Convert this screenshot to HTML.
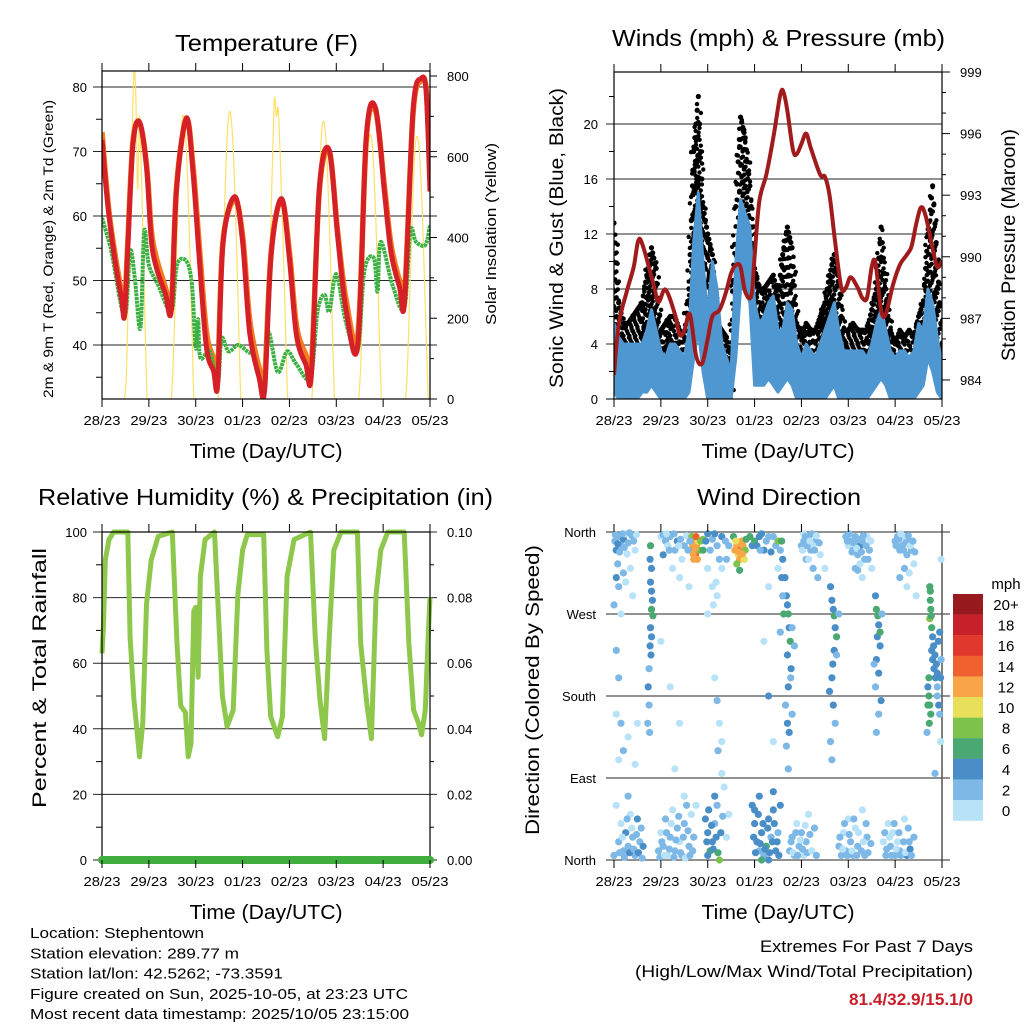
<!DOCTYPE html>
<html><head><meta charset="utf-8"><style>
html,body{margin:0;padding:0;background:#fff;}
svg{display:block;font-family:"Liberation Sans",sans-serif;}
</style></head><body>
<svg id="c" width="1024" height="1024" viewBox="0 0 1024 1024" xmlns="http://www.w3.org/2000/svg"></svg>
<script>
// ---------------- DATA ----------------
const dayLabels = ["28/23","29/23","30/23","01/23","02/23","03/23","04/23","05/23"];
const tempTicks = [40,50,60,70,80];
const solarTicks = [0,200,400,600,800];
const windTicks = [0,4,8,12,16,20];
const pressTicks = [984,987,990,993,996,999];
const rhTicks = [0,20,40,60,80,100];
const rainTicks = ["0.00","0.02","0.04","0.06","0.08","0.10"];
const dirLabels = ["North","East","South","West","North"];
const speedBins = ["0","2","4","6","8","10","12","14","16","18","20+"];
const speedColors = ["#b8e2f8","#7db8e6","#4a8ec8","#4aa872","#7dc24b","#e8e05a","#f7a546","#f06130","#e0392b","#c8202a","#961a1e"];

const tTime = [0,0.08,0.16,0.3,0.42,0.48,0.55,0.66,0.8,0.95,1.05,1.16,1.35,1.48,1.59,1.8,1.94,2.08,2.23,2.38,2.47,2.58,2.83,3.0,3.15,3.35,3.47,3.61,3.83,4.0,4.15,4.35,4.47,4.64,4.85,5.03,5.21,5.46,5.64,5.84,6.03,6.17,6.35,6.46,6.64,6.81,6.92,7.0];
const tempRed = [71.8,65,59.3,52,47,44.5,55,71,74.6,67.6,56.5,52,48,45.4,64,75.2,67,53,39.6,36,34,55.5,63,56,42,35,33,54,62.7,53.4,41.5,37,35.6,64.5,70.2,56.8,45.4,40,72.3,76.7,63.6,54.3,49,47,76.5,81.3,79,63.8];
const tempOrange = [73,66,60,53,48,45.5,56,71.5,74.4,68,58,53.5,49,46.2,64.5,75,68,55,42,38,36,56,62.5,57,44,36.5,35,54.5,62.5,54.5,43,38.5,37,64,70,57.5,47,41.5,72,76.3,64.5,55.5,50,48.3,76,81,79.5,66];
const tdTime = [0,0.2,0.48,0.6,0.7,0.82,0.9,1.0,1.2,1.48,1.6,1.8,1.92,2.0,2.05,2.1,2.3,2.47,2.55,2.7,2.9,3.1,3.25,3.47,3.55,3.75,3.95,4.15,4.45,4.6,4.75,4.85,5.0,5.2,5.45,5.6,5.8,5.88,5.95,6.2,6.45,6.58,6.7,6.9,7.0];
const tempDew = [59.7,54.5,44.5,54.5,50.4,42.6,57.6,52.4,49.3,45.2,52.4,53,49.3,39.5,44,38,39,34,41,39,40,39,38,33,42,35.8,39,37,35,45.2,47.8,45.2,51,43.7,39,51.5,53.5,48.3,56,49.3,45.7,57.6,56,55.5,58.6];
const solarStart = [0.48,1.48,2.48,3.48,4.48,5.48,6.48];
const solarValues = [
 [0,60,250,450,640,810,760,520,700,560,380,180,0],
 [0,90,240,400,540,650,700,690,620,500,350,170,0],
 [0,90,250,410,560,670,712,690,620,500,350,170,0],
 [0,80,240,420,600,745,700,720,610,480,330,160,0],
 [0,90,240,400,540,650,687,670,600,480,330,160,0],
 [0,80,230,380,520,620,654,640,570,460,320,150,0],
 [0,80,230,380,520,620,650,630,560,450,300,150,0]];

const windLo = [0.5,0,0,0,0,0,0.5,0.5,1,0.5, 0,0,0,0,0,0,0.5,3,5,2, 0,0,0,0,0,0,3,8,8,7, 1,1,1,1.5,1,0.5,1,1.5,1,0, 0,0,0,0,0,0,0.5,1,0,0, 0,0,0,0,0,0.5,1,1.5,1,0, 0,0,0,0,0,0.5,1,3,2,0.5,0];
const windHi = [5.5,4.5,4,4,4,4,4,5,6.5,5, 3.5,3,4,4,3.5,3,5,11.5,15,10, 6,10,8,4,3,2,10,14.5,13.5,12.5, 7,5.5,6,7,7.5,5,5,7,6.5,4, 3,4,3.5,3,4,5,6,7,5,3.5, 3.5,3.5,3.5,3.5,3,4,5.5,6.5,5,3.5, 3,3.5,3.5,3,3.5,5.5,5,8,7,4.5,2.5];
const gustHi = [12.8,7,5.5,5.5,6,6.5,7,9,11,9.5, 5,5.5,6,6,5,4.5,8,18,22,14, 12,10.5,5.5,5,4.5,3,14,20.5,19,15.5, 9.5,8,8,8.5,9,7.5,10.5,12.5,11,5.5, 4.5,5.5,5,5,6,7,9,10.5,8.5,5, 5,5.5,5,5,5,6.5,8,12.5,8,5, 4,5,4.5,5,4.5,6,7,12,15.5,10,4];
const pTime = [0,0.1,0.27,0.42,0.52,0.62,0.85,0.95,1.1,1.3,1.4,1.5,1.62,1.75,1.88,2.0,2.1,2.25,2.38,2.5,2.6,2.7,2.8,2.93,3.0,3.1,3.25,3.4,3.55,3.62,3.7,3.82,3.9,4.0,4.1,4.2,4.4,4.5,4.6,4.72,4.85,4.95,5.05,5.2,5.3,5.4,5.5,5.58,5.7,5.8,5.95,6.1,6.25,6.35,6.45,6.55,6.65,6.8,6.9,7.0];
const pressure = [984.25,986.7,988.3,989.5,990.8,990.5,988.6,987.8,988.4,987.2,986.2,986.4,987.2,985.2,984.8,986.0,987.1,987.4,988.2,989.2,989.6,989.5,988.3,988.1,990,992.7,994,995.8,997.9,998,997.1,995.2,995,995.5,996,995.3,994,993.9,993,990.7,988.5,988.5,989,988.5,988,988,989.5,989.7,987.4,987.2,988.6,989.6,990.1,990.5,991.6,992.4,992,990.4,989.5,989.8];

const rhTime = [0,0.03,0.07,0.15,0.25,0.55,0.6,0.68,0.8,0.87,0.95,1.05,1.2,1.5,1.6,1.68,1.78,1.84,1.9,1.96,2.0,2.05,2.1,2.2,2.4,2.5,2.57,2.67,2.8,2.9,3.0,3.1,3.45,3.52,3.6,3.75,3.85,3.95,4.1,4.45,4.55,4.65,4.75,4.85,4.95,5.1,5.45,5.52,5.65,5.75,5.85,5.95,6.1,6.45,6.55,6.65,6.75,6.82,6.9,6.97,7.0];
const rhValues = [63,71,91.5,97.7,100,100,68,49,31.5,41.9,78,91.5,98.7,100,66,47,45,31.5,35.5,76,77,55.7,86.5,97.7,100,71,50,40.7,45.7,81,94.5,99.2,99.2,64,43.7,37.6,43.7,86.5,97.7,100,68,49,37,68,94.5,100,100,66,48,37,81,94.5,100,100,66,45.7,41.9,38.2,45.7,71,80];
const rainTime = [0,7];
const rainValues = [0,0];

// wind direction observations: [day offset, direction deg (0=N,90=E,180=S,270=W), speed mph]
const windDirObs = [
[0.02,350,2],[0.05,340,3],[0.1,355,2],[0.15,345,1],[0.2,352,3],[0.25,358,0],[0.3,348,2],[0.38,356,1],[0.45,340,0],[0.05,310,4],[0.1,300,1],[0.2,315,2],[0.35,320,0],[0.0,280,2],[0.15,270,0],
[0.78,345,6],[0.77,330,4],[0.8,320,4],[0.78,305,4],[0.8,295,4],[0.82,285,4],[0.8,275,6],[0.83,268,6],[0.78,255,4],[0.8,245,4],[0.77,235,4],[0.79,225,4],[0.75,210,2],[0.73,190,4],[0.75,170,2],[0.72,150,2],[0.76,140,2],
[0.05,230,2],[0.1,200,2],[0.05,160,0],[0.15,150,2],[0.1,110,0],[0.2,120,2],[0.3,135,0],[0.5,150,0],[0.45,105,0],
[1.0,355,0],[1.1,350,2],[1.15,345,0],[1.2,355,2],[1.3,340,2],[1.35,350,4],[1.45,330,0],[1.5,345,2],[1.55,356,0],[1.25,320,0],[1.4,310,0],[1.6,300,0],[1.05,335,4],
[1.68,345,12],[1.7,340,13],[1.72,350,12],[1.74,335,14],[1.76,345,12],[1.78,330,12],[1.8,350,10],[1.82,340,8],[1.7,330,12],[1.66,355,8],[1.75,355,14],[1.85,350,8],[1.9,352,8],[1.9,340,6],[1.73,342,12],[1.69,336,12],
[2.0,270,0],[2.1,300,0],[2.2,290,0],[2.15,200,0],[2.2,175,2],[2.25,150,0],[2.3,130,0],[2.22,120,2],[2.3,95,0],[2.35,80,0],[2.4,330,2],[2.3,320,0],[2.0,320,0],[1.2,190,0],[1.0,240,0],[1.4,150,0],[1.3,100,0],[1.5,70,0],
[2.58,340,12],[2.62,345,12],[2.65,335,10],[2.68,330,12],[2.7,340,14],[2.72,350,12],[2.75,345,12],[2.78,330,10],[2.8,340,8],[2.62,325,8],[2.68,318,6],[2.55,355,6],[2.6,350,10],[2.82,352,6],[2.9,355,6],[2.95,345,4],[2.66,338,12],[2.74,336,12],
[3.0,350,6],[3.1,355,4],[3.15,358,4],[3.2,340,4],[3.3,355,2],[3.45,345,2],[3.5,350,8],[3.5,320,0],[3.3,300,0],[3.2,240,0],[3.3,180,4],[3.4,130,0],[3.6,330,4],[3.58,350,6],
[3.65,310,4],[3.68,290,4],[3.7,280,4],[3.72,270,6],[3.74,255,4],[3.76,240,6],[3.7,225,4],[3.78,210,4],[3.72,190,4],[3.66,170,2],[3.7,150,4],[3.74,140,4],[3.68,125,2],[3.8,255,2],[3.77,200,2],[3.8,160,2],[3.85,235,2],[3.72,100,2],
[4.0,345,2],[4.05,350,2],[4.15,355,2],[4.2,340,2],[4.3,350,2],[4.1,330,2],[4.25,345,0],[4.4,335,0],[4.05,358,0],[4.35,310,2],[4.5,320,0],
[4.62,300,4],[4.65,285,4],[4.68,275,4],[4.7,268,6],[4.72,255,4],[4.75,245,6],[4.7,230,4],[4.67,215,4],[4.65,200,4],[4.6,185,4],[4.68,170,4],[4.72,150,2],[4.62,130,2],[4.65,110,2],[4.75,225,2],[4.8,270,2],
[4.95,355,2],[5.0,345,0],[5.05,350,2],[5.1,340,2],[5.15,355,2],[5.2,335,2],[5.25,345,4],[5.3,350,2],[5.35,330,2],[5.4,355,0],[5.45,340,2],[5.5,320,0],[5.15,320,2],[5.3,310,0],
[5.58,290,4],[5.6,275,6],[5.63,268,6],[5.65,258,4],[5.62,245,4],[5.68,235,4],[5.6,220,4],[5.65,205,4],[5.58,190,2],[5.7,175,4],[5.65,160,2],[5.6,140,2],[5.68,250,6],[5.72,270,2],[5.55,215,2],
[6.0,350,2],[6.05,355,2],[6.1,340,2],[6.15,345,2],[6.2,355,0],[6.25,335,2],[6.3,350,2],[6.35,340,2],[6.4,325,0],[6.1,310,2],[6.25,300,0],[6.45,290,0],
[6.75,285,6],[6.76,275,6],[6.74,265,8],[6.78,255,6],[6.8,245,4],[6.82,235,4],[6.85,225,4],[6.88,215,4],[6.9,205,4],[6.72,180,6],[6.74,170,6],[6.76,160,6],[6.73,150,6],[6.7,190,4],[6.68,140,2],[6.92,240,4],[6.95,250,4],[6.9,190,2],[6.85,95,2],[6.97,130,0],[6.98,330,0],
[0.0,5,2],[0.1,20,2],[0.15,40,0],[0.2,10,2],[0.25,30,4],[0.3,15,2],[0.35,50,0],[0.4,25,2],[0.45,5,2],[0.5,45,4],[0.55,20,2],[0.05,60,0],[0.3,70,2],
[0.95,10,2],[1.0,30,0],[1.05,15,2],[1.1,45,2],[1.15,5,0],[1.2,25,2],[1.25,55,0],[1.3,10,2],[1.35,35,2],[1.4,20,0],[1.45,5,2],[1.5,40,2],[1.55,60,2],[1.6,15,2],[1.65,50,0],
[1.95,45,4],[2.0,30,4],[2.05,10,6],[2.1,20,4],[2.0,5,4],[2.15,40,2],[2.25,0,8],[2.4,25,0],[2.45,50,0],
[2.95,60,4],[3.0,40,4],[3.05,20,4],[3.1,10,2],[3.15,30,4],[3.2,5,2],[3.25,15,6],[3.3,45,4],[3.35,25,2],[3.4,55,4],[3.45,10,4],[3.5,30,2],[3.15,0,6],[3.3,0,4],[3.0,55,4],
[3.75,10,2],[3.8,25,2],[3.85,5,2],[3.9,40,0],[3.95,15,2],[4.0,30,2],[4.05,5,0],[4.1,20,2],[4.15,50,0],
[4.8,15,2],[4.85,5,2],[4.9,30,0],[4.95,10,2],[5.0,45,0],[5.05,20,2],[5.1,5,2],[5.15,35,0],[5.2,15,2],[5.3,55,0],[5.35,5,2],[5.4,25,2],
[5.75,20,0],[5.8,5,2],[5.85,40,0],[5.9,15,2],[5.95,30,0],[6.0,5,2],[6.05,20,0],[6.1,10,2],[6.2,45,0],[6.25,5,4],[6.3,20,2],
[0.03,357,2],[0.08,347,4],[0.12,338,2],[0.18,358,2],[0.22,343,2],[0.28,336,0],[0.33,359,2],[0.42,350,2],[0.48,357,0],[0.08,325,2],[0.25,305,0],[0.4,290,0],
[0.12,8,2],[0.18,25,0],[0.22,3,2],[0.28,45,2],[0.33,8,4],[0.38,35,0],[0.42,12,2],[0.48,28,2],[0.52,8,4],[0.58,35,2],[0.6,2,2],[0.62,15,4],
[0.98,3,2],[1.02,20,2],[1.08,5,0],[1.12,30,2],[1.18,12,2],[1.22,40,0],[1.28,3,2],[1.32,22,2],[1.38,48,2],[1.42,8,2],[1.48,25,2],[1.52,2,0],[1.58,32,2],[1.62,5,2],[1.7,25,2],[1.75,60,0],[1.68,10,2],
[1.05,357,2],[1.12,358,0],[1.18,340,2],[1.28,358,2],[1.38,345,0],[1.42,352,2],[1.58,340,2],[1.62,350,2],
[1.96,350,4],[2.0,358,4],[2.05,340,2],[2.1,352,2],[2.15,358,4],[2.2,345,2],[2.3,355,4],[2.38,350,2],[2.45,345,2],[2.25,330,2],[2.18,305,0],[2.12,280,0],
[1.98,20,4],[2.02,55,4],[2.08,38,4],[2.12,12,4],[2.18,25,4],[2.22,8,6],[2.28,30,4],[2.32,48,2],[2.2,60,2],[2.15,70,4],
[2.98,25,4],[3.02,8,4],[3.08,50,4],[3.12,18,4],[3.18,40,4],[3.22,12,4],[3.28,35,4],[3.32,8,4],[3.38,20,4],[3.42,40,4],[3.48,20,4],[3.52,5,4],[3.1,70,4],[3.4,75,4],[3.55,60,4],
[3.05,345,4],[3.12,340,2],[3.25,350,2],[3.35,338,4],[3.4,355,2],[3.55,340,2],[3.58,310,4],[3.6,290,2],[3.62,270,6],[3.55,250,2],
[3.78,20,2],[3.82,8,0],[3.88,30,2],[3.92,5,2],[3.98,22,0],[4.02,12,2],[4.08,38,0],[4.12,8,2],[4.18,28,2],[4.22,10,0],[4.28,35,2],[4.32,5,2],
[4.02,340,0],[4.08,355,2],[4.12,345,2],[4.18,350,0],[4.22,358,2],[4.28,340,2],[4.32,356,0],[4.38,348,2],[4.15,330,0],[4.25,320,2],
[4.82,25,2],[4.88,12,0],[4.92,40,2],[4.98,5,2],[5.02,28,2],[5.08,10,0],[5.12,45,2],[5.18,5,2],[5.22,30,0],[5.28,10,2],[5.32,20,0],[5.38,40,2],[5.42,8,2],[5.48,18,2],
[4.98,350,2],[5.02,358,2],[5.08,338,2],[5.12,348,2],[5.18,342,0],[5.22,352,2],[5.28,338,2],[5.32,356,2],[5.38,345,2],[5.42,330,2],[5.48,350,0],[5.2,318,2],[5.25,325,0],
[5.78,30,2],[5.82,12,2],[5.88,25,0],[5.92,5,2],[5.98,40,2],[6.02,12,0],[6.08,30,2],[6.12,5,2],[6.18,20,2],[6.22,8,0],[6.28,35,2],[6.32,12,4],[6.35,5,2],[6.4,25,2],
[6.02,345,2],[6.08,352,2],[6.12,358,0],[6.18,340,2],[6.22,348,2],[6.28,356,2],[6.32,345,0],[6.38,350,2],[6.42,338,2],[6.2,320,2],[6.3,315,0],
[6.78,230,4],[6.8,220,4],[6.83,210,4],[6.86,200,4],[6.9,180,2],[6.93,170,4],[6.95,160,2],[6.98,220,2],[6.97,200,4],[6.75,295,6],[6.74,300,6],[6.77,268,6],[6.72,200,6],[6.7,170,6]
];

// ---------------- DRAWING ----------------
const NS = "http://www.w3.org/2000/svg";
const svg = document.getElementById('c');
function mk(tag, attrs, parent, name) {
  const e = document.createElementNS(NS, tag);
  for (const k in attrs) e.setAttribute(k, attrs[k]);
  
  
  (parent || svg).appendChild(e);
  return e;
}
function txt(x, y, s, size, anchor, parent, name, extra) {
  const e = mk('text', Object.assign({x: x, y: y, 'font-size': size, 'text-anchor': anchor || 'middle', fill: '#000'}, extra || {}), parent, name);
  e.textContent = s;
  return e;
}
function vtxt(x, y, s, size, len, parent, name) {
  const e = mk('text', {x: 0, y: 0, 'font-size': size, 'text-anchor': 'middle', fill: '#000', textLength: len, lengthAdjust: 'spacingAndGlyphs', transform: 'translate(' + x + ',' + y + ') rotate(-90)'}, parent, name);
  e.textContent = s;
  return e;
}
function pathFrom(xs, ys) {
  let d = '';
  for (let i = 0; i < xs.length; i++) d += (i ? 'L' : 'M') + xs[i].toFixed(1) + ',' + ys[i].toFixed(1);
  return d;
}
function smoothFrom(xs, ys) {
  let d = 'M' + xs[0].toFixed(1) + ',' + ys[0].toFixed(1);
  const n = xs.length;
  for (let i = 0; i < n - 1; i++) {
    const x0 = xs[Math.max(0, i - 1)], y0 = ys[Math.max(0, i - 1)];
    const x3 = xs[Math.min(n - 1, i + 2)], y3 = ys[Math.min(n - 1, i + 2)];
    const c1x = xs[i] + (xs[i + 1] - x0) / 6, c1y = ys[i] + (ys[i + 1] - y0) / 6;
    const c2x = xs[i + 1] - (x3 - xs[i]) / 6, c2y = ys[i + 1] - (y3 - ys[i]) / 6;
    d += 'C' + c1x.toFixed(1) + ',' + c1y.toFixed(1) + ' ' + c2x.toFixed(1) + ',' + c2y.toFixed(1) + ' ' + xs[i + 1].toFixed(1) + ',' + ys[i + 1].toFixed(1);
  }
  return d;
}

const DAY = 46.857;
const P1 = {x0: 102, x1: 430, y0: 71, y1: 399};
const P2 = {x0: 614, x1: 942, y0: 72, y1: 399};
const P3 = {x0: 102, x1: 430, y0: 532, y1: 860};
const P4 = {x0: 614, x1: 942, y0: 532, y1: 860};
const x1 = t => P1.x0 + t * DAY;
const x2 = t => P2.x0 + t * DAY;
const tempY = v => 87 + (80 - v) * 6.45;
const solY = v => 399 - v * (323 / 800);
const windY = v => 399 - v * 13.75;
const pressY = p => 72 + (999 - p) * 20.53;
const rhY = v => 860 - v * 3.28;
const rainY = v => 860 - v * 3280;
const dirY = d => 860 - d * (328 / 360);

function xAxis(P, xf, g, title) {
  for (let i = 0; i < dayLabels.length; i++) {
    const x = xf(i);
    mk('line', {x1: x, y1: P.y0 - 8, x2: x, y2: P.y0, stroke: '#000', 'stroke-width': 1}, g, 'top-tick');
    mk('line', {x1: x, y1: P.y1, x2: x, y2: P.y1 + 8, stroke: '#000', 'stroke-width': 1}, g, 'bottom-tick');
    txt(x, P.y1 + 26, dayLabels[i], 13, 'middle', g, 'x-tick-label', {textLength: 37, lengthAdjust: 'spacingAndGlyphs'});
  }
  txt((P.x0 + P.x1) / 2, P.y1 + 59, title, 20, 'middle', g, 'x-axis-title', {textLength: 153, lengthAdjust: 'spacingAndGlyphs'});
}
function title(x, y, s, len, g) {
  txt(x, y, s, 23, 'middle', g, 'chart-title', {textLength: len, lengthAdjust: 'spacingAndGlyphs'});
}

// ===== Panel 1: Temperature =====
const g1 = mk('g', {}, svg, 'temperature-panel');
const clip1 = mk('clipPath', {id: 'cp1'}, g1, 'clip');
mk('rect', {x: P1.x0, y: P1.y0, width: P1.x1 - P1.x0, height: P1.y1 - P1.y0}, clip1, 'clip-rect');
title(266.5, 51, 'Temperature (F)', 183, g1);
tempTicks.forEach(v => {
  const y = tempY(v);
  mk('line', {x1: 93, y1: y, x2: 437, y2: y, stroke: '#000', 'stroke-width': 1, opacity: 0.85}, g1, 'grid-line');
  txt(87, y + 5, String(v), 13, 'end', g1, 'y-tick-label');
});
for (let v = 35; v <= 80; v += 10) { const y = tempY(v); mk('line', {x1: 96, y1: y, x2: 102, y2: y, stroke: '#000'}, g1, 'minor-tick'); }
solarTicks.forEach(v => {
  const y = solY(v);
  mk('line', {x1: 430, y1: y, x2: 437, y2: y, stroke: '#000'}, g1, 'right-tick');
  txt(447, y + 5, String(v), 13, 'start', g1, 'right-tick-label');
});
for (let v = 100; v < 800; v += 200) { const y = solY(v); mk('line', {x1: 430, y1: y, x2: 434, y2: y, stroke: '#000'}, g1, 'right-minor-tick'); }
const d1 = mk('g', {'clip-path': 'url(#cp1)'}, g1, 'temperature-series');
solarValues.forEach((arr, d) => {
  const xs = arr.map((v, i) => x1(solarStart[d] + i * 0.04));
  const ys = arr.map(v => solY(v));
  mk('path', {d: smoothFrom(xs, ys), fill: 'none', stroke: '#ffe066', 'stroke-width': 1.2}, d1, 'solar-insolation-line');
});
mk('path', {d: smoothFrom(tTime.map(x1), tempOrange.map(tempY)), fill: 'none', stroke: '#f47b20', 'stroke-width': 5.5, 'stroke-linejoin': 'round'}, d1, 'temp-9m-line');
mk('path', {d: smoothFrom(tdTime.map(x1), tempDew.map(tempY)), fill: 'none', stroke: '#3cb043', 'stroke-width': 4, 'stroke-dasharray': '3 0.7', 'stroke-linejoin': 'round'}, d1, 'dewpoint-line');
mk('path', {d: smoothFrom(tTime.map(x1), tempRed.map(tempY)), fill: 'none', stroke: '#d42026', 'stroke-width': 5, 'stroke-linejoin': 'round'}, d1, 'temp-2m-line');
mk('rect', {x: P1.x0, y: P1.y0, width: P1.x1 - P1.x0, height: P1.y1 - P1.y0, fill: 'none', stroke: '#000', 'stroke-width': 1.2}, g1, 'plot-frame');
xAxis(P1, x1, g1, 'Time (Day/UTC)');
vtxt(53, 249, '2m & 9m T (Red, Orange) & 2m Td (Green)', 14, 298, g1, 'y-axis-title');
vtxt(496, 234, 'Solar Insolation (Yellow)', 15, 182, g1, 'right-axis-title');

// ===== Panel 2: Winds =====
const g2 = mk('g', {}, svg, 'winds-panel');
const clip2 = mk('clipPath', {id: 'cp2'}, g2, 'clip');
mk('rect', {x: P2.x0, y: P2.y0 - 2, width: P2.x1 - P2.x0, height: P2.y1 - P2.y0 + 2}, clip2, 'clip-rect');
title(778.5, 46, 'Winds (mph) & Pressure (mb)', 333, g2);
windTicks.forEach(v => {
  const y = windY(v);
  if (v > 0) mk('line', {x1: 606, y1: y, x2: 942, y2: y, stroke: '#000', 'stroke-width': 1, opacity: 0.85}, g2, 'grid-line');
  else mk('line', {x1: 606, y1: y, x2: 614, y2: y, stroke: '#000'}, g2, 'left-tick');
  txt(598, y + 5, String(v), 13, 'end', g2, 'y-tick-label');
});
for (let v = 2; v < 24; v += 4) { const y = windY(v); mk('line', {x1: 609, y1: y, x2: 614, y2: y, stroke: '#000'}, g2, 'minor-tick'); }
pressTicks.forEach(p => {
  const y = pressY(p);
  mk('line', {x1: 942, y1: y, x2: 950, y2: y, stroke: '#000'}, g2, 'right-tick');
  txt(960, y + 5, String(p), 13, 'start', g2, 'right-tick-label');
});
for (let p = 984; p <= 999; p++) { if ((p - 984) % 3) { const y = pressY(p); mk('line', {x1: 942, y1: y, x2: 946, y2: y, stroke: '#000'}, g2, 'right-minor-tick'); } }
const d2 = mk('g', {'clip-path': 'url(#cp2)'}, g2, 'wind-series');
const gg = mk('g', {fill: '#000'}, d2, 'gust-dots');
for (let i = 0; i < gustHi.length; i++) {
  for (let k = 0; k < 4; k++) {
    const f = k / 4;
    const j = Math.min(i + 1, gustHi.length - 1);
    const top = gustHi[i] + (gustHi[j] - gustHi[i]) * f;
    const bot = Math.max(0, (windHi[i] + (windHi[j] - windHi[i]) * f) - 2);
    const t = i * 0.1 + f * 0.1;
    let n = 0;
    for (let v = bot + k * 0.17; v <= top; v += 0.65) {
      n++;
      const jit = ((n * 7 + k * 3 + i) % 5 - 2) * 1.3;
      mk('circle', {cx: (x2(t) + jit).toFixed(1), cy: windY(v).toFixed(1), r: 2.2}, gg, 'gust-dot');
    }
    mk('circle', {cx: x2(t), cy: windY(top), r: 2.6}, gg, 'gust-dot');
  }
}
const wxs = windHi.map((v, i) => x2(i * 0.1));
let bandD = pathFrom(wxs, windHi.map(windY));
for (let i = windLo.length - 1; i >= 0; i--) bandD += 'L' + x2(i * 0.1).toFixed(1) + ',' + windY(windLo[i]).toFixed(1);
mk('path', {d: bandD + 'Z', fill: '#4f97d0', stroke: '#4f97d0', 'stroke-width': 3, 'stroke-linejoin': 'round'}, d2, 'sonic-wind-band');
mk('path', {d: smoothFrom(pTime.map(x2), pressure.map(pressY)), fill: 'none', stroke: '#a01c1c', 'stroke-width': 4, 'stroke-linejoin': 'round'}, d2, 'pressure-line');
mk('rect', {x: P2.x0, y: P2.y0, width: P2.x1 - P2.x0, height: P2.y1 - P2.y0, fill: 'none', stroke: '#000', 'stroke-width': 1.2}, g2, 'plot-frame');
xAxis(P2, x2, g2, 'Time (Day/UTC)');
vtxt(563, 238, 'Sonic Wind & Gust (Blue, Black)', 19, 300, g2, 'y-axis-title');
vtxt(1015, 245, 'Station Pressure (Maroon)', 19, 232, g2, 'right-axis-title');

// ===== Panel 3: RH =====
const g3 = mk('g', {}, svg, 'humidity-panel');
title(265.5, 505, 'Relative Humidity (%) & Precipitation (in)', 455, g3);
rhTicks.forEach((v, i) => {
  const y = rhY(v);
  mk('line', {x1: 93, y1: y, x2: 437, y2: y, stroke: '#000', 'stroke-width': 1, opacity: 0.85}, g3, 'grid-line');
  txt(87, y + 5, String(v), 13, 'end', g3, 'y-tick-label');
  txt(447, y + 5, rainTicks[i], 13, 'start', g3, 'right-tick-label');
});
for (let v = 10; v < 100; v += 20) { const y = rhY(v); mk('line', {x1: 96, y1: y, x2: 102, y2: y, stroke: '#000'}, g3, 'minor-tick'); mk('line', {x1: 430, y1: y, x2: 434, y2: y, stroke: '#000'}, g3, 'right-minor-tick'); }
mk('path', {d: pathFrom(rhTime.map(x1), rhValues.map(rhY)), fill: 'none', stroke: '#8dc84c', 'stroke-width': 5, 'stroke-linejoin': 'round'}, g3, 'humidity-line');
mk('rect', {x: P3.x0, y: P3.y0, width: P3.x1 - P3.x0, height: P3.y1 - P3.y0, fill: 'none', stroke: '#000', 'stroke-width': 1.2}, g3, 'plot-frame');
mk('path', {d: pathFrom(rainTime.map(x1), rainValues.map(rainY)), fill: 'none', stroke: '#3fae3f', 'stroke-width': 8, 'stroke-linecap': 'round'}, g3, 'precipitation-line');
xAxis(P3, x1, g3, 'Time (Day/UTC)');
vtxt(46, 678, 'Percent & Total Rainfall', 19, 260, g3, 'y-axis-title');

// ===== Panel 4: Wind Direction =====
const g4 = mk('g', {}, svg, 'wind-direction-panel');
title(779, 505, 'Wind Direction', 164, g4);
dirLabels.forEach((s, i) => {
  const y = dirY(i * 90);
  mk('line', {x1: 606, y1: y, x2: 950, y2: y, stroke: '#000', 'stroke-width': 1, opacity: 0.85}, g4, 'grid-line');
  txt(596, y + 5, s, 13, 'end', g4, 'y-tick-label');
});
mk('line', {x1: 942, y1: 532, x2: 942, y2: 860, stroke: '#555', 'stroke-width': 1.5}, g4, 'right-axis-line');
const d4 = mk('g', {}, g4, 'direction-dots');
windDirObs.forEach(o => {
  const idx = Math.min(speedColors.length - 1, Math.round(o[2] / 2));
  mk('circle', {cx: x2(o[0]).toFixed(1), cy: dirY(o[1]).toFixed(1), r: 3.6, fill: speedColors[idx]}, d4, 'direction-point');
});
xAxis(P4, x2, g4, 'Time (Day/UTC)');
vtxt(539, 690, 'Direction (Colored By Speed)', 19, 290, g4, 'y-axis-title');
const lg = mk('g', {}, g4, 'speed-legend');
txt(1006, 589, 'mph', 15, 'middle', lg, 'legend-title');
for (let i = 0; i < speedBins.length; i++) {
  const k = speedBins.length - 1 - i;
  const y = 594 + i * 20.6;
  mk('rect', {x: 953, y: y, width: 30, height: 20.8, fill: speedColors[k]}, lg, 'legend-swatch');
  txt(1006, y + 16, speedBins[k], 15, 'middle', lg, 'legend-label');
}

// ===== Footer text =====
const ft = mk('g', {}, svg, 'station-info');
const infoLines = ['Location: Stephentown', 'Station elevation: 289.77 m', 'Station lat/lon: 42.5262; -73.3591', 'Figure created on Sun, 2025-10-05, at 23:23 UTC', 'Most recent data timestamp: 2025/10/05 23:15:00'];
const infoLens = [174, 209, 253, 378, 379];
infoLines.forEach((s, i) => {
  txt(30, 938 + i * 20.3, s, 15, 'start', ft, 'info-line', {textLength: infoLens[i], lengthAdjust: 'spacingAndGlyphs'});
});
const ex = mk('g', {}, svg, 'extremes-summary');
txt(973, 952, 'Extremes For Past 7 Days', 17, 'end', ex, 'extremes-title', {textLength: 213, lengthAdjust: 'spacingAndGlyphs'});
txt(973, 977, '(High/Low/Max Wind/Total Precipitation)', 17, 'end', ex, 'extremes-subtitle', {textLength: 338, lengthAdjust: 'spacingAndGlyphs'});
txt(973, 1005, '81.4/32.9/15.1/0', 17, 'end', ex, 'extremes-values', {fill: '#c8202a', 'font-weight': 'bold', textLength: 124, lengthAdjust: 'spacingAndGlyphs'});
</script>
</body></html>
